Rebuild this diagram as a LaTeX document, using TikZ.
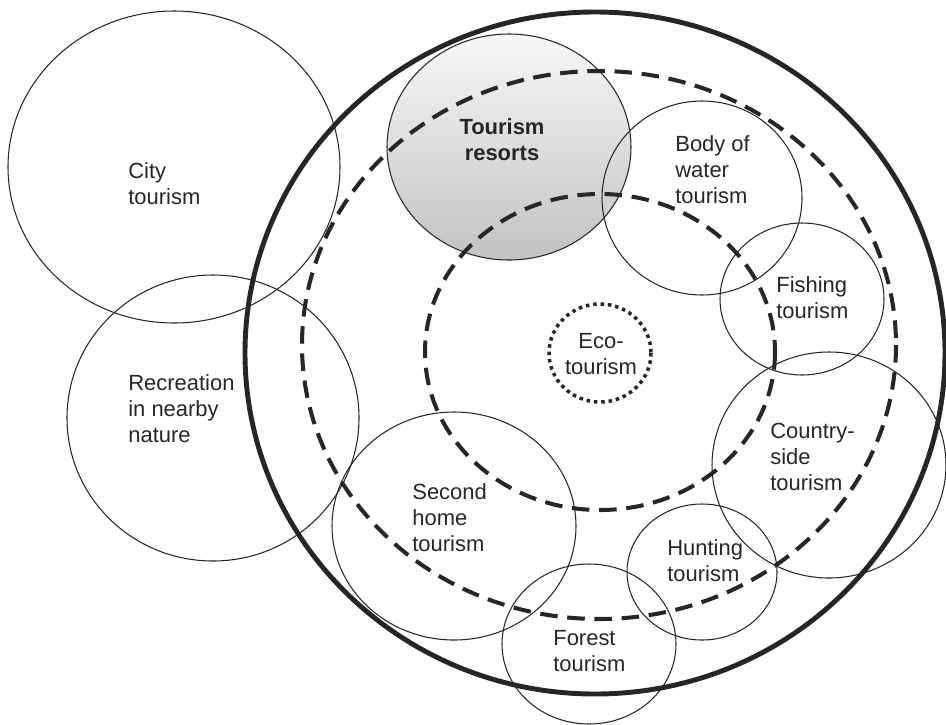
\documentclass[tikz,border=0pt]{standalone}
\usepackage{fontspec}
\setmainfont{Liberation Sans}
\begin{document}
\begin{tikzpicture}[x=0.02cm,y=-0.02cm,
  venn/.style={draw=black!85,line width=0.6pt},
  ring/.style={draw=black!85,line width=2.8pt},
  zone/.style={draw=black!85,line width=2.3pt,dash pattern=on 10pt off 5.5pt},
  dots/.style={draw=black!85,line width=2pt,dash pattern=on 2pt off 2.2pt},
  lbl/.style={inner sep=0pt,anchor=base west,align=left,text=black!85,font=\fontsize{12.5}{14.8}\selectfont}]
\useasboundingbox (0,0) rectangle (946,724);
% shaded resort circle first, the rest goes over it
\shade[top color=gray!6,bottom color=gray!48,draw=black!85,line width=0.6pt] (509,147) ellipse [x radius=122,y radius=113];
\foreach \cx/\cy/\rx/\ry in {174/167/166/156, 213/418/146/143, 702/198/100/97, 802/299/82/76,
                             829/465/117/113, 702/572/75/68, 589/644/87/80, 454/526/122/114}
  \draw[venn] (\cx,\cy) ellipse [x radius=\rx,y radius=\ry];
\draw[ring] (595,353) ellipse [x radius=350,y radius=341];
\draw[zone] (599,345) ellipse [x radius=297,y radius=274];
\draw[zone] (600,352) ellipse [x radius=175,y radius=158];
\draw[dots] (600,353) ellipse [x radius=51,y radius=49];
% labels (anchored at the baseline of the last line)
\node[lbl] (city) at (128,204) {City\\tourism};
\node[lbl,anchor=base,align=center,font=\fontsize{12.5}{14.8}\selectfont\bfseries] (resorts) at (502,160) {Tourism\\resorts};
\node[lbl] (water) at (675,203) {Body of\\water\\tourism};
\node[lbl] (fishing) at (776,318) {Fishing\\tourism};
\node[lbl,anchor=base,align=center] (eco) at (601,374) {Eco-\\tourism};
\node[lbl] (recreation) at (128,442) {Recreation\\in nearby\\nature};
\node[lbl] (second) at (412,551) {Second\\home\\tourism};
\node[lbl] (country) at (770,490) {Country-\\side\\tourism};
\node[lbl] (hunting) at (667,581) {Hunting\\tourism};
\node[lbl] (forest) at (553,671) {Forest\\tourism};
\end{tikzpicture}
\end{document}
